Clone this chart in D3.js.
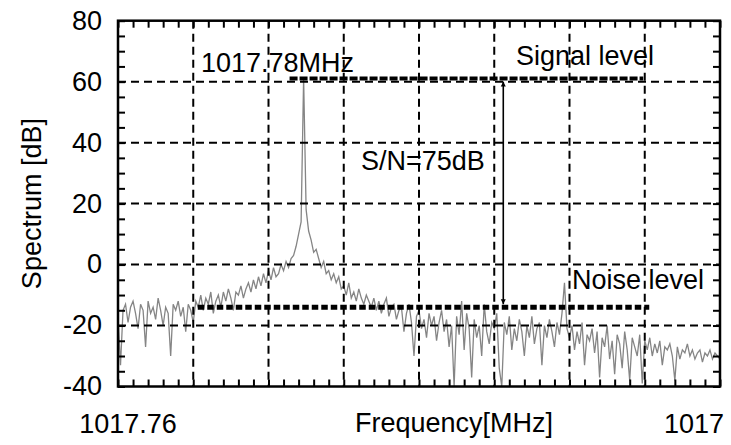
<!DOCTYPE html>
<html>
<head>
<meta charset="utf-8">
<script src="https://cdn.jsdelivr.net/npm/d3@7"></script>
<style>
  html, body { margin: 0; padding: 0; background: #fff; }
  text { font-family: "Liberation Sans", Arial, sans-serif; fill: #000; }
</style>
</head>
<body>
<div id="chart"></div>
<script>
// spectrum samples, evenly spaced from FREQ_START, step FREQ_STEP (MHz)
const FREQ_START = 1017.76
const FREQ_STEP = 0.04 / 240
const spectrum = [
  -17, -33, -15, -13, -19, -14, -12, -16, -21, -13,
  -15, -27, -12, -16, -14, -18, -11, -15, -20, -14,
  -16, -30, -13, -15, -12, -17, -14, -22, -13, -15,
  -19, -12, -14, -10, -15, -11, -13, -9, -16, -12,
  -10, -14, -9, -12, -8, -11, -15, -9, -10, -7,
  -11, -8, -6, -9, -5, -8, -4, -7, -3, -6,
  -2, -5, -1, -4, -3, 0, -2, 1, -1, 2,
  3, 6, 10, 14, 61, 18, 11, 8, 4, 5,
  2, -1, 1, -3, -2, -5, -3, -6, -4, -8,
  -7, -10, -6, -11, -9, -12, -8, -11, -13, -10,
  -12, -14, -11, -15, -12, -16, -13, -11, -17, -14,
  -13, -18, -15, -14, -22, -16, -13, -19, -30, -17,
  -15, -21, -18, -24, -16, -20, -17, -25, -19, -15,
  -22, -18, -27, -20, -40, -17, -23, -12, -28, -16,
  -21, -37, -18, -24, -20, -30, -13, -22, -26, -19,
  -21, -16, -34, -40, -19, -23, -17, -28, -21, -25,
  -18, -22, -30, -20, -24, -17, -26, -21, -19, -33,
  -20, -24, -18, -22, -27, -19, -23, -16, -6, -21,
  -24, -20, -28, -22, -26, -19, -33, -23, -25, -21,
  -29, -22, -37, -24, -27, -20, -31, -25, -36, -23,
  -26, -34, -22, -28, -38, -24, -27, -30, -23, -39,
  -25, -28, -24, -30, -26, -29, -25, -33, -27, -28,
  -26, -30, -38, -27, -31, -28, -29, -26, -30, -28,
  -31, -29, -28, -32, -29, -30, -28, -31, -29, -30, -31
]

const xDomain = [1017.76, 1017.80]
const yDomain = [-40, 80]
const yTicks = [80, 60, 40, 20, 0, -20, -40]
const xGrid = [1017.765, 1017.77, 1017.775, 1017.78, 1017.785, 1017.79, 1017.795]
const yGrid = [60, 40, 20, 0, -20]
const xTickLabels = ["1017.76", "1017"]

const signalLevel = 61
const noiseLevel = -14
const signalSpan = [1017.7714, 1017.7949]
const noiseSpan = [1017.7653, 1017.7953]
const arrowFreq = 1017.7856

const W = 731, H = 445
const PLOT = {LEFT: 118, RIGHT: 720, TOP: 20.7, BOTTOM: 386.5}

const svg = d3.select('#chart').append('svg')
    .attr('width', W)
    .attr('height', H)

const x = d3.scaleLinear().domain(xDomain).range([PLOT.LEFT, PLOT.RIGHT])
const y = d3.scaleLinear().domain(yDomain).range([PLOT.BOTTOM, PLOT.TOP])

// spectrum trace
const line = d3.line()
    .x((d, i) => x(FREQ_START + i * FREQ_STEP))
    .y(d => y(d))

svg.append('path')
    .datum(spectrum)
    .attr('d', line)
    .attr('fill', 'none')
    .attr('stroke', '#858585')
    .attr('stroke-width', 1.3)

// dashed grid
svg.append('g').selectAll('line')
    .data(xGrid)
    .enter().append('line')
    .attr('x1', d => x(d)).attr('x2', d => x(d))
    .attr('y1', PLOT.TOP).attr('y2', PLOT.BOTTOM)
    .attr('stroke', '#000').attr('stroke-width', 2)
    .attr('stroke-dasharray', '8,5')

svg.append('g').selectAll('line')
    .data(yGrid)
    .enter().append('line')
    .attr('x1', PLOT.LEFT).attr('x2', PLOT.RIGHT)
    .attr('y1', d => y(d)).attr('y2', d => y(d))
    .attr('stroke', '#000').attr('stroke-width', 2)
    .attr('stroke-dasharray', '8,5')

// signal / noise levels
svg.append('line')
    .attr('x1', x(signalSpan[0])).attr('x2', x(signalSpan[1]))
    .attr('y1', y(signalLevel)).attr('y2', y(signalLevel))
    .attr('stroke', '#000').attr('stroke-width', 4)
    .attr('stroke-dasharray', '8,2')

svg.append('line')
    .attr('x1', x(noiseSpan[0])).attr('x2', x(noiseSpan[1]))
    .attr('y1', y(noiseLevel)).attr('y2', y(noiseLevel))
    .attr('stroke', '#000').attr('stroke-width', 5)
    .attr('stroke-dasharray', '6.5,3')

// double arrow for S/N
const defs = svg.append('defs')
defs.append('marker')
    .attr('id', 'arrow')
    .attr('viewBox', '0 0 10 10')
    .attr('refX', 10).attr('refY', 5)
    .attr('markerWidth', 5).attr('markerHeight', 6)
    .attr('markerUnits', 'userSpaceOnUse')
    .attr('orient', 'auto-start-reverse')
    .append('path')
    .attr('d', 'M0,0 L10,5 L0,10 Z')
    .attr('fill', '#000')

svg.append('line')
    .attr('x1', x(arrowFreq)).attr('x2', x(arrowFreq))
    .attr('y1', y(noiseLevel) - 3).attr('y2', y(signalLevel) + 3)
    .attr('stroke', '#000').attr('stroke-width', 1.6)
    .attr('marker-start', 'url(#arrow)')
    .attr('marker-end', 'url(#arrow)')

// frame and inward ticks on all four sides
svg.append('rect')
    .attr('x', PLOT.LEFT).attr('y', PLOT.TOP)
    .attr('width', PLOT.RIGHT - PLOT.LEFT)
    .attr('height', PLOT.BOTTOM - PLOT.TOP)
    .attr('fill', 'none').attr('stroke', '#000').attr('stroke-width', 2.5)

const xMinor = d3.range(0, 41).map(i => xDomain[0] + i * 0.001)
const yMinor = d3.range(-40, 81, 5)
const TICK = 7

function styleAxis(g) {
    g.select('.domain').remove()
    g.selectAll('.tick line').attr('stroke', '#000').attr('stroke-width', 2)
    g.selectAll('.tick text').remove()
}

svg.append('g').attr('transform', `translate(0,${PLOT.BOTTOM})`)
    .call(d3.axisBottom(x).tickValues(xMinor).tickSize(-TICK)).call(styleAxis)
svg.append('g').attr('transform', `translate(0,${PLOT.TOP})`)
    .call(d3.axisTop(x).tickValues(xMinor).tickSize(-TICK)).call(styleAxis)
svg.append('g').attr('transform', `translate(${PLOT.LEFT},0)`)
    .call(d3.axisLeft(y).tickValues(yMinor).tickSize(-TICK)).call(styleAxis)
svg.append('g').attr('transform', `translate(${PLOT.RIGHT},0)`)
    .call(d3.axisRight(y).tickValues(yMinor).tickSize(-TICK)).call(styleAxis)

// tick labels
const FS = 27
svg.append('g').selectAll('text')
    .data(yTicks)
    .enter().append('text')
    .attr('x', PLOT.LEFT - 16)
    .attr('y', d => y(d))
    .attr('dy', '0.33em')
    .attr('text-anchor', 'end')
    .style('font-size', FS + 'px')
    .text(d => d)

svg.append('text')
    .attr('x', x(xDomain[0]) + 10).attr('y', 433)
    .attr('text-anchor', 'middle')
    .style('font-size', FS + 'px')
    .text(xTickLabels[0])

svg.append('text')
    .attr('x', x(xDomain[1]) + 4).attr('y', 433)
    .attr('text-anchor', 'end')
    .style('font-size', FS + 'px')
    .text(xTickLabels[1])

// axis titles
svg.append('text')
    .attr('x', 454).attr('y', 432)
    .attr('text-anchor', 'middle')
    .style('font-size', FS + 'px')
    .text('Frequency[MHz]')

svg.append('text')
    .attr('transform', `translate(41,${(PLOT.TOP + PLOT.BOTTOM) / 2}) rotate(-90)`)
    .attr('text-anchor', 'middle')
    .style('font-size', FS + 'px')
    .text('Spectrum [dB]')

// annotations
svg.append('text').attr('x', 201).attr('y', 71.5)
    .style('font-size', FS + 'px').text('1017.78MHz')
svg.append('text').attr('x', 516).attr('y', 65)
    .style('font-size', FS + 'px').text('Signal level')
svg.append('text').attr('x', 361).attr('y', 170)
    .style('font-size', FS + 'px').text('S/N=75dB')
svg.append('text').attr('x', 572).attr('y', 289)
    .style('font-size', FS + 'px').text('Noise level')
</script>
</body>
</html>
